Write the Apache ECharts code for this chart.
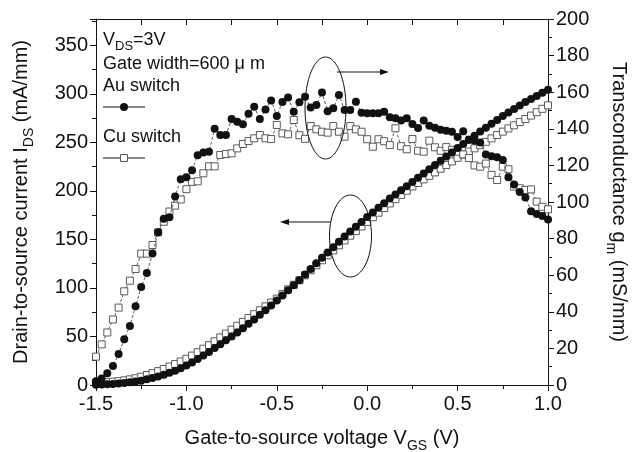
<!DOCTYPE html>
<html>
<head>
<meta charset="utf-8">
<script src="https://cdn.jsdelivr.net/npm/echarts@6/dist/echarts.min.js"></script>
<style>
  html, body { margin: 0; padding: 0; background: #fff; }
  #chart { width: 637px; height: 452px; }
</style>
</head>
<body>
<div id="chart"></div>
<script>
// Sweep grid: V_GS from -1.5 V to 1.0 V, 81 points
const VGS_START = -1.5;
const VGS_STEP = 0.03125;

// Drain current I_DS (mA/mm), left axis
const auIds = [
  0.3, 0.5, 0.8, 1.1, 1.5, 2.1, 2.8, 3.6, 4.5, 5.8,
  7.2, 8.8, 10.5, 12.6, 14.8, 17.3, 20, 23.3, 26.7, 30.3,
  34, 38, 42, 46, 50, 54.2, 58.5, 63, 67.5, 72.3,
  77, 82, 87, 92.2, 97.5, 102.8, 108, 113.8, 119.5, 125.3,
  131, 136.5, 142, 147.5, 153, 158, 163, 168, 173, 177.8,
  182.5, 187.3, 192, 196.3, 200.5, 204.8, 209, 213.4, 217.8, 222.2,
  226.5, 230.9, 235.3, 239.6, 244, 248.3, 252.5, 256.8, 261, 265,
  269, 273, 277, 280.6, 284.3, 288, 291.5, 294.6, 297.8, 301,
  304
];
const cuIds = [
  2, 2.4, 2.9, 3.4, 4, 4.8, 5.8, 7, 8.5, 10.3,
  12.2, 14.3, 16.5, 19, 21.6, 24.3, 27, 30.3, 33.8, 37.4,
  41, 45, 49, 53, 57, 61, 65, 69, 73, 77,
  81, 85, 89, 93.7, 98.5, 103.2, 108, 113, 118.2, 123.3,
  128.5, 133.6, 138.7, 143.9, 149, 153.8, 158.5, 163.3, 168, 172.8,
  177.5, 182.3, 187, 191.4, 195.8, 200.1, 204.5, 208.1, 211.8, 215.4,
  219, 222.8, 226.5, 230.3, 234, 237.3, 240.5, 243.8, 247, 250.5,
  254, 257.5, 261, 264.3, 267.5, 270.8, 274, 277.5, 281, 284.5,
  288
];

// Transconductance g_m (mS/mm), right axis
const auGm = [
  2, 3.5, 6.4, 10.4, 16.9, 25, 32.3, 43, 53.6, 61.2,
  71.8, 83.5, 90.8, 91.7, 103, 112.5, 113.5, 117.3, 125.5, 127,
  127.5, 140, 136.6, 136.6, 145.3, 143.9, 142.5, 148.2, 152, 145.3,
  150.5, 155.5, 147, 154.6, 157.1, 149.3, 154.5, 157.5, 151.6, 153,
  159.8, 149.6, 151.2, 158.5, 150.3, 150.3, 154.8, 148.8, 148.5, 148.5,
  148.5, 149.3, 146.3, 145.7, 144.6, 145.7, 142.6, 140.5, 144.5, 141.7,
  140.6, 139.5, 139, 138.4, 135.5, 138.7, 134, 133.5, 132.5, 126,
  125, 124.5, 123, 113.5, 109.5, 105.5, 102.5, 95, 93.4, 92.3,
  90.5
];
const cuGm = [
  15.5, 22.2, 28.7, 35.8, 42.3, 51.2, 57, 63.4, 71.8, 71.8,
  76.5, 83.4, 89.2, 94.8, 98, 101.4, 107, 111, 111.3, 115.7,
  119.5, 119.5, 125.7, 126.2, 126.6, 129.3, 131.7, 133.3, 134.8, 136.6,
  134.8, 134.4, 142.1, 137.5, 137, 144.8, 136.5, 134.5, 141.5, 139.7,
  138.4, 137.9, 141.5, 138.4, 135.7, 141.5, 139.7, 138.4, 134.3, 130.2,
  134.3, 133.2, 131.1, 140.3, 130.5, 128.8, 134.4, 128, 127.5, 133.5,
  129.9, 128, 130, 128.5, 127.5, 126, 124, 120, 119.3, 121,
  114.8, 112, 119.3, 117.9, 108.4, 107.5, 106.6, 106.9, 100.2, 97.4,
  96
];

const FONT = '"Liberation Sans", Arial, sans-serif';
const INK = '#111';
const SQUARE_EDGE = '#5a5a5a';

const vgs = auIds.map((_, i) => VGS_START + i * VGS_STEP);
const pairs = values => values.map((v, i) => [vgs[i], v]);

const subRich = {
  sub: { fontSize: 14, fontFamily: FONT, color: INK, verticalAlign: 'bottom', lineHeight: 30 }
};

function lineSeries(values, yAxisIndex, filled) {
    return {
        type: 'line',
        yAxisIndex: yAxisIndex,
        data: pairs(values),
        symbol: filled ? 'circle' : 'rect',
        symbolSize: filled ? 8 : 7,
        lineStyle: { color: '#333', width: 0.8, type: [3, 2] },
        itemStyle: filled
            ? { color: INK, borderWidth: 0 }
            : { color: '#fff', borderColor: SQUARE_EDGE, borderWidth: 1 },
        z: filled ? 3 : 2,
        animation: false
    };
}

const axisLabelStyle = { fontSize: 20, fontFamily: FONT, color: INK };
const axisLineStyle = { show: true, onZero: false, lineStyle: { color: INK, width: 1 } };

const chart = echarts.init(document.getElementById('chart'));
chart.setOption({
    animation: false,
    textStyle: { fontFamily: FONT },
    grid: { left: 96, right: 89, top: 19, bottom: 67, outerBoundsMode: 'none', containLabel: false },
    xAxis: [{
        type: 'value',
        position: 'bottom',
        min: -1.5,
        max: 1.0,
        interval: 0.5,
        axisLine: axisLineStyle,
        axisTick: { inside: false, length: 6, lineStyle: { color: INK } },
        minorTick: { show: true, splitNumber: 2, length: 4, lineStyle: { color: INK } },
        splitLine: { show: false },
        axisLabel: { ...axisLabelStyle, margin: 9, formatter: v => v.toFixed(1) },
        name: 'Gate-to-source voltage V{sub|GS} (V)',
        nameLocation: 'middle',
        nameGap: 38,
        nameTextStyle: { fontSize: 20, fontFamily: FONT, color: INK, lineHeight: 30, rich: subRich }
    }, {
        type: 'value',
        position: 'top',
        min: -1.5,
        max: 1.0,
        interval: 0.25,
        axisLine: axisLineStyle,
        axisTick: { inside: true, length: 6, lineStyle: { color: INK } },
        splitLine: { show: false },
        axisLabel: { show: false }
    }],
    yAxis: [{
        type: 'value',
        position: 'left',
        min: 0,
        max: 377,
        interval: 50,
        axisLine: axisLineStyle,
        axisTick: { show: true, inside: false, length: 6, lineStyle: { color: INK } },
        minorTick: { show: true, splitNumber: 2, length: 4, lineStyle: { color: INK } },
        splitLine: { show: false },
        axisLabel: {
            ...axisLabelStyle,
            margin: 8,
            showMaxLabel: false,
            formatter: v => (v % 50 === 0 ? String(v) : '')
        },
        name: 'Drain-to-source current I{sub|DS} (mA/mm)',
        nameLocation: 'middle',
        nameRotate: 90,
        nameGap: 60,
        nameTextStyle: { fontSize: 20, fontFamily: FONT, color: INK, lineHeight: 30, rich: subRich }
    }, {
        type: 'value',
        position: 'right',
        min: 0,
        max: 200,
        interval: 20,
        axisLine: axisLineStyle,
        axisTick: { show: true, inside: false, length: 6, lineStyle: { color: INK } },
        minorTick: { show: true, splitNumber: 2, length: 4, lineStyle: { color: INK } },
        splitLine: { show: false },
        axisLabel: { ...axisLabelStyle, margin: 8 },
        name: 'Transconductance g{sub|m} (mS/mm)',
        nameLocation: 'middle',
        nameRotate: -90,
        nameGap: 56,
        nameTextStyle: { fontSize: 20, fontFamily: FONT, color: INK, lineHeight: 30, rich: subRich }
    }],
    series: [
        lineSeries(cuIds, 0, false),
        lineSeries(auIds, 0, true),
        lineSeries(cuGm, 1, false),
        lineSeries(auGm, 1, true)
    ],
    graphic: [
        // annotation block
        {
            type: 'text', x: 103, y: 40,
            style: {
                text: 'V{sub|DS}=3V', fontSize: 18, fontFamily: FONT, fill: INK,
                verticalAlign: 'middle', lineHeight: 24,
                rich: { sub: { fontSize: 13, fontFamily: FONT, fill: INK, verticalAlign: 'bottom', lineHeight: 26 } }
            }
        },
        { type: 'text', x: 103, y: 64, style: { text: 'Gate width=600 μ m', fontSize: 18, fontFamily: FONT, fill: INK, verticalAlign: 'middle' } },
        { type: 'text', x: 103, y: 86, style: { text: 'Au switch', fontSize: 18, fontFamily: FONT, fill: INK, verticalAlign: 'middle' } },
        { type: 'line', shape: { x1: 103, y1: 107, x2: 145, y2: 107 }, style: { stroke: INK, lineWidth: 1.2 } },
        { type: 'circle', shape: { cx: 124, cy: 107, r: 4 }, style: { fill: INK } },
        { type: 'text', x: 103, y: 137, style: { text: 'Cu switch', fontSize: 18, fontFamily: FONT, fill: INK, verticalAlign: 'middle' } },
        { type: 'line', shape: { x1: 103, y1: 158, x2: 145, y2: 158 }, style: { stroke: INK, lineWidth: 1.2 } },
        { type: 'rect', shape: { x: 120.5, y: 154.5, width: 7, height: 7 }, style: { fill: '#fff', stroke: SQUARE_EDGE, lineWidth: 1 } },
        // ellipse + arrow pointing to the right axis (g_m)
        { type: 'ellipse', shape: { cx: 325.5, cy: 108, rx: 20.5, ry: 51 }, style: { fill: null, stroke: INK, lineWidth: 1 }, z: 10 },
        { type: 'line', shape: { x1: 337, y1: 72, x2: 383, y2: 72 }, style: { stroke: INK, lineWidth: 1.2 }, z: 10 },
        { type: 'polygon', shape: { points: [[389, 72], [380, 69], [380, 75]] }, style: { fill: INK }, z: 10 },
        // ellipse + arrow pointing to the left axis (I_DS)
        { type: 'ellipse', shape: { cx: 350.5, cy: 236, rx: 21, ry: 41 }, style: { fill: null, stroke: INK, lineWidth: 1 }, z: 10 },
        { type: 'line', shape: { x1: 331, y1: 222, x2: 286, y2: 222 }, style: { stroke: INK, lineWidth: 1.2 }, z: 10 },
        { type: 'polygon', shape: { points: [[280, 222], [289, 219], [289, 225]] }, style: { fill: INK }, z: 10 }
    ]
});
</script>
</body>
</html>
